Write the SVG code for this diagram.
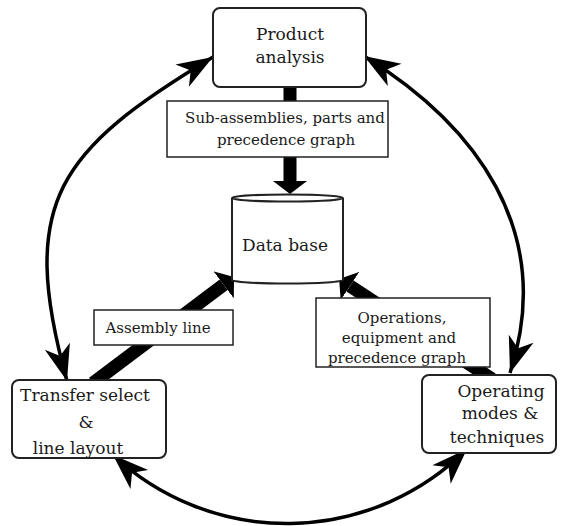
<svg xmlns="http://www.w3.org/2000/svg" width="564" height="526" viewBox="0 0 564 526">
<style>
  .node { fill: #fff; stroke: #222; stroke-width: 2; }
  .lbl { fill: #fff; stroke: #222; stroke-width: 1.5; }
  .t { font-family: "DejaVu Serif", "Liberation Serif", serif; fill: #1a1a1a; text-anchor: middle; }
  .n { font-size: 17px; }
  .s { font-size: 15px; }
  .thick { stroke: #000; stroke-width: 13; fill: none; marker-end: url(#bigHead); }
  .arc { stroke: #000; stroke-width: 3.5; fill: none; marker-start: url(#stealth); marker-end: url(#stealth); }
</style>
<defs>
  <marker id="bigHead" markerUnits="userSpaceOnUse" markerWidth="14" markerHeight="34" viewBox="0 -17 14 34" refX="0" refY="0" orient="auto">
    <path d="M0,-17 L13,0 L0,17 z" fill="#000"/>
  </marker>
  <marker id="stealth" markerUnits="userSpaceOnUse" markerWidth="38" markerHeight="28" viewBox="-37 -14 38 28" refX="0" refY="0" orient="auto-start-reverse">
    <path d="M0,0 L-36,-13 L-26,0 L-36,13 z" fill="#000"/>
  </marker>
</defs>
<rect width="564" height="526" fill="#fff"/>
<g id="connectors">
  <line class="thick" x1="290" y1="87" x2="290" y2="181"/>
  <line class="thick" x1="93" y1="383" x2="223.6" y2="284.8"/>
  <line class="thick" x1="492" y1="379" x2="350" y2="286"/>
  <path class="arc" d="M213,57 C59,150 17,201 67,381"/>
  <path class="arc" d="M364,56 C474.5,124.3 556.5,230.5 510,373"/>
  <path class="arc" d="M113,455 A255,255 0 0 0 467,449"/>
</g>
<g id="product-analysis">
  <rect class="node" x="213" y="8" width="153" height="79" rx="7"/>
  <text class="t n" x="290" y="40">Product</text>
  <text class="t n" x="290" y="63">analysis</text>
</g>
<g id="label-subassemblies">
  <rect class="lbl" x="167" y="101" width="221" height="56"/>
  <text class="t s" x="285" y="123">Sub-assemblies, parts and</text>
  <text class="t s" x="286" y="145">precedence graph</text>
</g>
<g id="data-base">
  <path class="node" d="M232,198 L232,280 A55.5,3.5 0 0 0 343,280 L343,198"/>
  <ellipse class="node" cx="287.5" cy="198" rx="55.5" ry="3.5"/>
  <text class="t n" x="285" y="251">Data base</text>
</g>
<g id="label-assembly-line">
  <rect class="lbl" x="94" y="310" width="139" height="35"/>
  <text class="t s" x="158" y="333">Assembly line</text>
</g>
<g id="label-operations">
  <rect class="lbl" x="316" y="298" width="174" height="69"/>
  <text class="t s" x="402" y="323">Operations,</text>
  <text class="t s" x="399" y="343">equipment and</text>
  <text class="t s" x="397" y="363">precedence graph</text>
</g>
<g id="transfer-select">
  <rect class="node" x="12" y="380" width="154" height="78" rx="7"/>
  <text class="t n" x="85" y="401">Transfer select</text>
  <text class="t n" x="86" y="428">&amp;</text>
  <text class="t n" x="78" y="454">line layout</text>
</g>
<g id="operating-modes">
  <rect class="node" x="422" y="375" width="134" height="78" rx="7"/>
  <text class="t n" x="501" y="397">Operating</text>
  <text class="t n" x="500" y="419">modes &amp;</text>
  <text class="t n" x="497" y="443">techniques</text>
</g>
</svg>
